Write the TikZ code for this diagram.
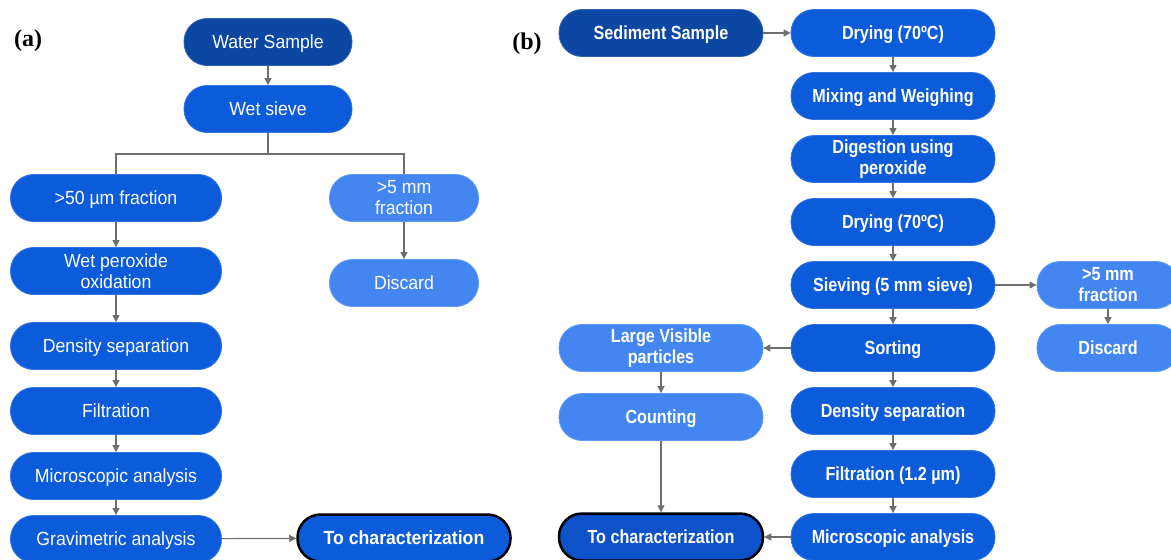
\documentclass[tikz,border=0pt]{standalone}
\usepackage{fontspec}
\setmainfont{Liberation Sans}
\newfontfamily\labfont{Liberation Serif}
\newfontfamily\condfont[FakeStretch=0.85]{Liberation Sans}
\newfontfamily\afont[FakeStretch=0.93]{Liberation Sans}
\usetikzlibrary{arrows.meta}
\definecolor{cdark}{HTML}{0B47A3}
\definecolor{cmid}{HTML}{0C5BDA}
\definecolor{clight}{HTML}{4386F2}
\definecolor{cchar}{HTML}{0D52C8}
\definecolor{cline}{HTML}{6E6E6E}
\tikzset{
  pill/.style={rounded corners=23pt, minimum height=47pt, text=white, align=center, inner sep=0pt, draw=#1!85!white, fill=#1, line width=0.8pt},
  one/.style={text height=13.6pt, text depth=0pt},
  fa/.style={font=\afont\fontsize{19}{21}\selectfont},
  fb/.style={font=\condfont\bfseries\fontsize{19}{21}\selectfont},
  wa/.style={minimum width=211pt},
  wb/.style={minimum width=204pt},
  charbox/.style={draw=black, line width=2.5pt},
  conn/.style={draw=cline, line width=1.2pt, -{Triangle[length=7pt,width=7pt]}},
  plain/.style={draw=cline, line width=1.2pt},
  panel/.style={font=\labfont\bfseries\fontsize{24}{26}\selectfont}
}
\begin{document}
\begin{tikzpicture}[x=1pt,y=-1pt]
\useasboundingbox (0,0) rectangle (1171,560);
\fill[white] (0,0) rectangle (1171,560);
% ---------- panel (a)
\node[panel] (la) at (28,41) {(a)};
\node[pill=cdark, fa, one, minimum width=168pt] (ws) at (268,42) {Water Sample};
\node[pill=cmid, fa, one, minimum width=168pt] (wsv) at (268,109) {Wet sieve};
\node[pill=cmid, fa, one, wa] (f50) at (116,198) {>50 µm fraction};
\node[pill=clight, fa, minimum width=149pt] (f5a) at (404,198) {>5 mm\\fraction};
\node[pill=clight, fa, one, minimum width=149pt] (disa) at (404,283) {Discard};
\node[pill=cmid, fa, wa] (wpo) at (116,271) {Wet peroxide\\oxidation};
\node[pill=cmid, fa, one, wa] (dsa) at (116,346) {Density separation};
\node[pill=cmid, fa, one, wa] (fia) at (116,411) {Filtration};
\node[pill=cmid, fa, one, wa] (mia) at (116,476) {Microscopic analysis};
\node[pill=cmid, fa, one, wa] (gra) at (116,539) {Gravimetric analysis};
\node[pill=cmid, fa, one, charbox, minimum width=213pt, font=\afont\bfseries\fontsize{19}{21}\selectfont] (cha) at (404,538) {To characterization};
\coordinate (br) at (268,154);
\draw[conn] (ws) -- (wsv);
\draw[plain] (wsv.south) -- (br) -| (f50.north);
\draw[plain] (br) -| (f5a.north);
\draw[conn] (f5a) -- (disa);
\draw[conn] (f50) -- (wpo);
\draw[conn] (wpo) -- (dsa);
\draw[conn] (dsa) -- (fia);
\draw[conn] (fia) -- (mia);
\draw[conn] (mia) -- (gra);
\draw[conn] (gra) -- (cha);
% ---------- panel (b)
\node[panel] (lb) at (527,44) {(b)};
\node[pill=cdark, fb, one, wb] (sed) at (661,33) {Sediment Sample};
\node[pill=cmid, fb, one, wb] (dr1) at (893,33) {Drying (70ºC)};
\node[pill=cmid, fb, one, wb] (mix) at (893,96) {Mixing and Weighing};
\node[pill=cmid, fb, wb] (dig) at (893,159) {Digestion using\\peroxide};
\node[pill=cmid, fb, one, wb] (dr2) at (893,222) {Drying (70ºC)};
\node[pill=cmid, fb, one, wb] (sie) at (893,285) {Sieving (5 mm sieve)};
\node[pill=clight, fb, minimum width=142pt] (f5b) at (1108,285) {>5 mm\\fraction};
\node[pill=clight, fb, one, minimum width=142pt] (disb) at (1108,348) {Discard};
\node[pill=cmid, fb, one, wb] (sor) at (893,348) {Sorting};
\node[pill=clight, fb, wb] (lvp) at (661,348) {Large Visible\\particles};
\node[pill=clight, fb, one, wb] (cou) at (661,417) {Counting};
\node[pill=cmid, fb, one, wb] (dsb) at (893,411) {Density separation};
\node[pill=cmid, fb, one, wb] (fib) at (893,474) {Filtration (1.2 µm)};
\node[pill=cmid, fb, one, wb] (mib) at (893,537) {Microscopic analysis};
\node[pill=cchar, fb, one, charbox, wb] (chb) at (661,537) {To characterization};
\draw[conn] (sed) -- (dr1);
\draw[conn] (dr1) -- (mix);
\draw[conn] (mix) -- (dig);
\draw[conn] (dig) -- (dr2);
\draw[conn] (dr2) -- (sie);
\draw[conn] (sie) -- (f5b);
\draw[conn] (f5b) -- (disb);
\draw[conn] (sie) -- (sor);
\draw[conn] (sor) -- (lvp);
\draw[conn] (lvp) -- (cou);
\draw[conn] (cou) -- (chb);
\draw[conn] (sor) -- (dsb);
\draw[conn] (dsb) -- (fib);
\draw[conn] (fib) -- (mib);
\draw[conn] (mib) -- (chb);
\end{tikzpicture}
\end{document}
